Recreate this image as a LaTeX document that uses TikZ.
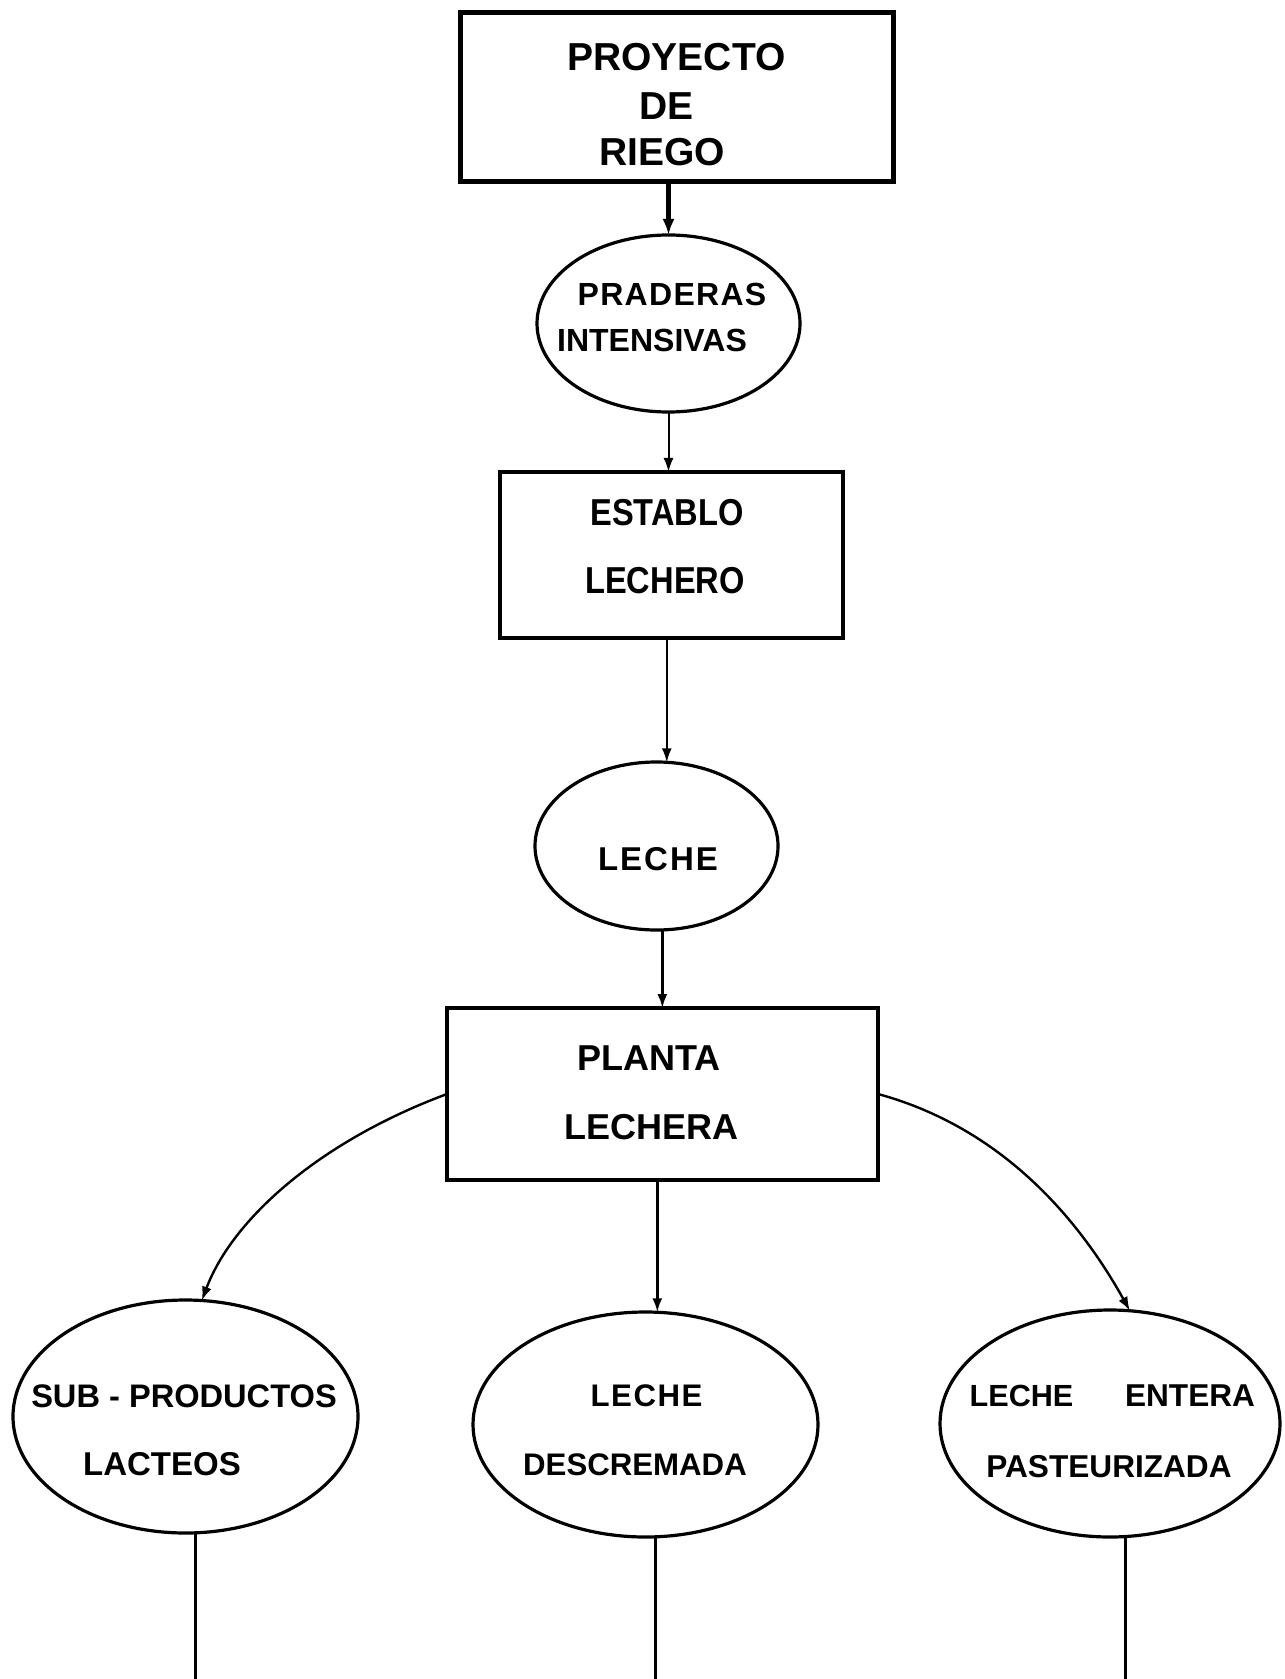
\documentclass[tikz,border=0pt]{standalone}
\usepackage{fontspec}
\usepackage{graphicx}
\setmainfont{Liberation Sans}
\usetikzlibrary{arrows.meta,shapes.geometric}
\newcommand\fsz[1]{\fontsize{#1}{#1}\selectfont\bfseries}
\newcommand\spaced[2]{{\addfontfeature{LetterSpace=#1}#2}}

\begin{document}
\begin{tikzpicture}[x=0.5pt,y=-0.5pt,
  every node/.style={inner sep=0pt, outer sep=0pt},
  box/.style={draw, rectangle, line width=2pt},
  oval/.style={draw, ellipse, line width=1.6pt},
  link/.style={-{Latex[length=7pt,width=5pt]}, line width=1pt},
  tail/.style={line width=1.4pt},
]
\useasboundingbox (0,0) rectangle (1284,1679);
\fill[white] (0,0) rectangle (1284,1679);

% shapes
\node[box, line width=2.5pt, minimum width=216.5pt, minimum height=84.5pt] (riego) at (676.5,97.5) {};
\node[oval, minimum width=131.5pt, minimum height=88.5pt] (praderas) at (668.5,323.5) {};
\node[box, minimum width=171.5pt, minimum height=83pt] (establo) at (671.5,555) {};
\node[oval, minimum width=121.5pt, minimum height=84pt] (leche) at (656.5,846) {};
\node[box, minimum width=215.5pt, minimum height=86pt] (planta) at (662.5,1094) {};
\node[oval, minimum width=172.5pt, minimum height=116.5pt] (subprod) at (185.5,1416.5) {};
\node[oval, minimum width=172.5pt, minimum height=112.5pt] (descrem) at (645.5,1424.5) {};
\node[oval, minimum width=170pt, minimum height=113.5pt] (entera) at (1110,1423.5) {};

% labels
\node[font=\fsz{19.5}] (tProy) at (676.5,57.5) {PROYECTO};
\node[font=\fsz{19.5}] (tDe) at (666.5,106) {DE};
\node[font=\fsz{19.5}] (tRiego) at (662,152) {RIEGO};

\node[font=\fsz{16}] (tPrad) at (672,294) {\spaced{4}{PRADERAS}};
\node[font=\fsz{16}] (tInt) at (652,340) {INTENSIVAS};

\node[font=\fsz{16.3}] (tEst) at (667,513) {\scalebox{1}[1.15]{ESTABLO}};
\node[font=\fsz{16.3}] (tLechero) at (665,581) {\scalebox{1}[1.15]{LECHERO}};

\node[font=\fsz{16.5}] (tLeche) at (658,859) {\spaced{6}{LECHE}};

\node[font=\fsz{18}] (tPlanta) at (649,1058) {PLANTA};
\node[font=\fsz{18}] (tLechera) at (651.5,1127) {LECHERA};

\node[font=\fsz{16.3}] (tSub) at (184,1396) {SUB - PRODUCTOS};
\node[font=\fsz{16.5}] (tLact) at (162,1464) {LACTEOS};

\node[font=\fsz{15.6}] (tLecheD) at (646.5,1396) {\spaced{5}{LECHE}};
\node[font=\fsz{15.6}] (tDesc) at (635,1465) {DESCREMADA};

\node[font=\fsz{15.3}] (tLecheE) at (1021.5,1396) {LECHE};
\node[font=\fsz{15.8}] (tEnt) at (1190,1396) {ENTERA};
\node[font=\fsz{15.8}] (tPast) at (1109,1467) {PASTEURIZADA};

% connectors
\draw[link, line width=2.4pt, -{Latex[length=8pt,width=6pt]}] (praderas.north |- riego.south) -- (praderas.north);
\draw[link] (praderas.south) -- (praderas.south |- establo.north);
\draw[link] (leche.83 |- establo.south) -- (leche.83);
\draw[link, line width=1.2pt] (leche.-86) -- (leche.-86 |- planta.north);
\draw[link, line width=1.5pt] (descrem.84 |- planta.south) -- (descrem.84);
\draw[link, line width=1.2pt] (planta.west) .. controls (318,1142) and (232,1220) .. (subprod.82);
\draw[link, line width=1.2pt] (planta.east) .. controls (1010,1130) and (1085,1230) .. (entera.80);

% lines running on below
\coordinate (base) at (0,1679);
\draw[tail] (subprod.-85) -- (subprod.-85 |- base);
\draw[tail] (descrem.-85) -- (descrem.-85 |- base);
\draw[tail] (entera.-82) -- (entera.-82 |- base);
\end{tikzpicture}
\end{document}
